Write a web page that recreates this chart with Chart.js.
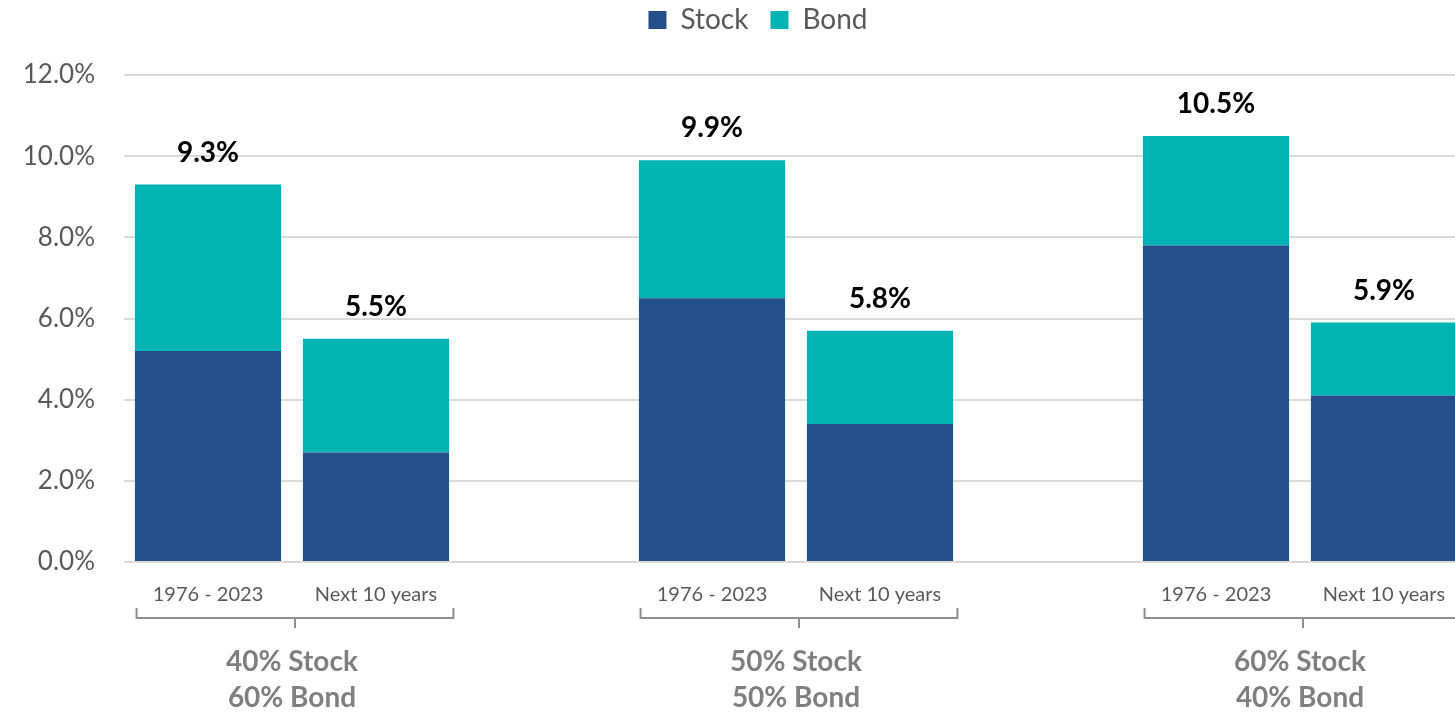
<!DOCTYPE html>
<html>
<head>
<meta charset="utf-8">
<script src="https://cdn.jsdelivr.net/npm/chart.js@4.4.1/dist/chart.umd.min.js"></script>
<style>
  html, body { margin: 0; padding: 0; overflow: hidden; background: #fff; }
  #wrap { position: absolute; left: 0; top: 0; width: 1517px; height: 714px; }
</style>
</head>
<body>
<div id="wrap"><canvas id="myChart"></canvas></div>
<script>
const periods = ['1976 - 2023', 'Next 10 years'];
const portfolios = [['40% Stock', '60% Bond'], ['50% Stock', '50% Bond'], ['60% Stock', '40% Bond']];
const stockReturns = [5.2, 2.7, 6.5, 3.4, 7.8, 4.1];
const bondReturns = [4.1, 2.8, 3.4, 2.3, 2.7, 1.8];
const totalLabels = ['9.3%', '5.5%', '9.9%', '5.8%', '10.5%', '5.9%'];
const yTicks = [0, 2, 4, 6, 8, 10, 12];

// one blank slot between the portfolio groups
let labels = [], stockData = [], bondData = [], totals = [];
portfolios.forEach((p, g) => {
  if (g > 0) { labels.push(''); stockData.push(null); bondData.push(null); totals.push(''); }
  periods.forEach((per, k) => {
    const i = g * periods.length + k;
    labels.push(per);
    stockData.push(stockReturns[i]);
    bondData.push(bondReturns[i]);
    totals.push(totalLabels[i]);
  });
});

const FONT = 'Lato, "Open Sans", sans-serif';

// legend takes the space above the plot, sits a bit higher and right of centre
const legendPlace = {
  id: 'legendPlace',
  beforeInit(chart) {
    const fit = chart.legend.fit;
    chart.legend.fit = function () {
      fit.bind(chart.legend)();
      this.height = 75;
    };
  },
  afterLayout(chart) {
    const lg = chart.legend;
    lg.top -= 16; lg.bottom -= 16;
    lg.left += 24; lg.right += 24;
  }
};

const extras = {
  id: 'extras',
  afterDraw(chart) {
    const ctx = chart.ctx, x = chart.scales.x, y = chart.scales.y;
    const bottom = chart.chartArea.bottom;
    ctx.save();
    // totals above the bars
    ctx.fillStyle = '#000';
    ctx.font = 'bold 28px ' + FONT;
    ctx.textAlign = 'center';
    ctx.textBaseline = 'middle';
    labels.forEach((l, i) => {
      if (!totals[i]) return;
      const top = y.getPixelForValue(stockData[i] + bondData[i]);
      ctx.fillText(totals[i], x.getPixelForValue(i), top - 32);
    });
    // brackets and portfolio names
    const w = x.getPixelForValue(1) - x.getPixelForValue(0);
    portfolios.forEach((p, g) => {
      const i0 = g * (periods.length + 1);
      const cx = (x.getPixelForValue(i0) + x.getPixelForValue(i0 + 1)) / 2 + 3;
      const hw = w * 0.943;
      ctx.strokeStyle = '#8f8f8f';
      ctx.lineWidth = 2;
      ctx.beginPath();
      ctx.moveTo(cx - hw, bottom + 46);
      ctx.lineTo(cx - hw, bottom + 56);
      ctx.lineTo(cx + hw, bottom + 56);
      ctx.lineTo(cx + hw, bottom + 46);
      ctx.moveTo(cx, bottom + 56);
      ctx.lineTo(cx, bottom + 66);
      ctx.stroke();
      ctx.fillStyle = '#7f7f7f';
      ctx.font = 'bold 28px ' + FONT;
      ctx.fillText(p[0], cx - 3, bottom + 100);
      ctx.fillText(p[1], cx - 3, bottom + 136);
    });
    ctx.restore();
  }
};

new Chart(document.getElementById('myChart').getContext('2d'), {
  type: 'bar',
  data: {
    labels: labels,
    datasets: [
      { label: 'Stock', data: stockData, backgroundColor: '#254f8a', borderWidth: 0 },
      { label: 'Bond', data: bondData, backgroundColor: '#00b4b4', borderWidth: 0 }
    ]
  },
  options: {
    responsive: true,
    maintainAspectRatio: false,
    animation: false,
    layout: { padding: { left: 0, right: 49, top: 0, bottom: 0 } },
    datasets: { bar: { categoryPercentage: 1, barPercentage: 0.87 } },
    plugins: {
      tooltip: { enabled: false },
      legend: {
        position: 'top',
        labels: {
          boxWidth: 18,
          boxHeight: 18,
          padding: 22,
          color: '#595959',
          font: { family: FONT, size: 28 }
        }
      }
    },
    scales: {
      x: {
        stacked: true,
        grid: { display: false, drawTicks: false },
        border: { display: false },
        ticks: { color: '#595959', padding: 21, font: { family: FONT, size: 20 }, maxRotation: 0, autoSkip: false },
        afterFit(scale) { scale.height = 152; }
      },
      y: {
        stacked: true,
        min: 0,
        max: 12,
        afterBuildTicks(scale) { scale.ticks = yTicks.map(v => ({ value: v })); },
        grid: { color: '#d9d9d9', lineWidth: 2, drawTicks: false },
        border: { display: false },
        ticks: {
          color: '#595959',
          padding: 29,
          font: { family: FONT, size: 26 },
          callback: v => v.toFixed(1) + '%'
        },
        afterFit(scale) { scale.width = 124; }
      }
    }
  },
  plugins: [legendPlace, extras]
});
</script>
</body>
</html>
